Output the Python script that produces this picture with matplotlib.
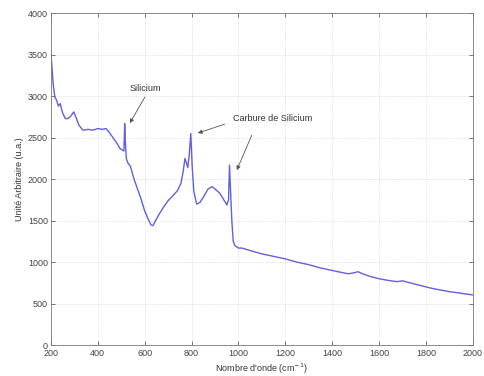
import matplotlib
matplotlib.use("Agg")
import matplotlib.pyplot as plt

# Spectre (nombre d'onde en cm-1, intensité en u.a.)
nombre_onde = [200, 205, 210, 217, 225, 232, 240, 250, 262, 273, 285, 298, 308,
               320, 337, 360, 380, 400, 420, 435, 445, 460, 480, 495, 505, 512,
               515, 518, 522, 528, 540, 555, 570, 585, 600, 615, 627, 635, 645,
               660, 680, 700, 720, 740, 755, 765, 772, 778, 784, 790, 797, 803,
               810, 822, 836, 850, 870, 887, 905, 921, 940, 951, 958, 962, 966,
               972, 978, 985, 1000, 1015, 1050, 1100, 1150, 1200, 1250, 1300,
               1350, 1400, 1450, 1470, 1490, 1510, 1530, 1560, 1600, 1640, 1676,
               1700, 1720, 1760, 1817, 1860, 1900, 1950, 2000]
intensite = [3520, 3350, 3150, 2990, 2950, 2880, 2910, 2800, 2730, 2730, 2760,
             2810, 2740, 2650, 2590, 2600, 2590, 2610, 2600, 2610, 2580, 2520,
             2440, 2370, 2350, 2340, 2670, 2450, 2250, 2200, 2150, 2000, 1880,
             1760, 1620, 1520, 1450, 1440, 1490, 1570, 1660, 1740, 1800, 1860,
             1950, 2100, 2250, 2200, 2140, 2280, 2550, 2150, 1850, 1700, 1720,
             1780, 1880, 1910, 1870, 1830, 1740, 1690, 1750, 2170, 1900, 1500,
             1250, 1200, 1170, 1170, 1140, 1100, 1070, 1040, 1000, 970, 930,
             900, 870, 860, 870, 885, 860, 830, 800, 780, 765, 775, 760, 730,
             690, 665, 645, 625, 605]

x_ticks = [200, 400, 600, 800, 1000, 1200, 1400, 1600, 1800, 2000]
y_ticks = [0, 500, 1000, 1500, 2000, 2500, 3000, 3500, 4000]

plt.rcParams['font.family'] = ['Liberation Sans', 'DejaVu Sans']
fs = 6.5

fig = plt.figure(figsize=(4.84, 3.76), dpi=100)
ax = fig.add_axes([0.105, 0.082, 0.872, 0.883])

ax.plot(nombre_onde, intensite, color='#6060e0', linewidth=1.0)

ax.set_xlim(200, 2000)
ax.set_ylim(0, 4000)
ax.set_xticks(x_ticks)
ax.set_yticks(y_ticks)
ax.tick_params(direction='in', length=3, width=0.5, labelsize=fs,
               top=True, right=True, colors='#444444')
ax.tick_params(axis='x', pad=3)
ax.tick_params(axis='y', pad=2)
ax.grid(True, linestyle=':', linewidth=0.5, color='#cccccc')
for s in ax.spines.values():
    s.set_color('#777777')
    s.set_linewidth(0.6)

ax.set_xlabel("Nombre d'onde (cm$^{-1}$)", fontsize=fs, color='#333333', labelpad=2)
ax.set_ylabel("Unité Arbitraire (u.a.)", fontsize=fs, color='#333333', labelpad=3)

fleche = dict(arrowstyle='-|>', color='#555555', lw=0.6, mutation_scale=6,
              shrinkA=0, shrinkB=0)
ax.text(605, 3097, 'Silicium', fontsize=fs, ha='center', va='center',
        color='#333333')
ax.annotate('', xy=(537, 2675), xytext=(601, 2988), arrowprops=fleche)
ax.text(976, 2735, 'Carbure de Silicium', fontsize=fs, ha='left', va='center',
        color='#333333')
ax.annotate('', xy=(827, 2555), xytext=(942, 2663), arrowprops=fleche)
ax.annotate('', xy=(993, 2109), xytext=(1057, 2530), arrowprops=fleche)

fig.savefig('out.png', dpi=100)
